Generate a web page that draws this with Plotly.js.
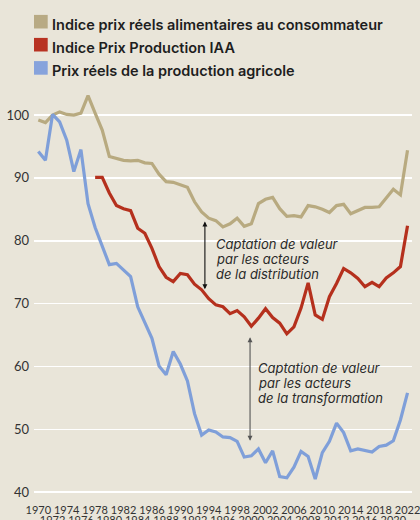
<!DOCTYPE html>
<html>
<head>
<meta charset="utf-8">
<script src="https://cdn.plot.ly/plotly-3.0.1.min.js"></script>
<style>
html,body{margin:0;padding:0;background:#e9e5d9;}
#chart{width:420px;height:520px;}
</style>
</head>
<body>
<div id="chart"></div>
<script>
// ---- data ----
const years = [];
for (let y = 1970; y <= 2022; y++) years.push(y);

const seriesNames = [
  "Indice prix réels alimentaires au consommateur",
  "Indice Prix Production IAA",
  "Prix réels de la production agricole"
];
const seriesColors = ["#b8aa80", "#b5301d", "#7f9fd9"];
const swatchColors = ["#b8aa84", "#b83222", "#87a3dc"];

const consumer = [99.2, 98.8, 100.0, 100.5, 100.1, 100.0, 100.3, 103.1, 100.3, 97.6,
  93.4, 93.1, 92.8, 92.7, 92.8, 92.4, 92.3, 90.6, 89.4, 89.3,
  88.9, 88.5, 86.2, 84.6, 83.6, 83.2, 82.2, 82.7, 83.6, 82.3,
  82.7, 85.9, 86.6, 86.9, 85.1, 83.9, 84.0, 83.8, 85.6, 85.4,
  85.0, 84.5, 85.6, 85.8, 84.3, 84.8, 85.3, 85.3, 85.4, 86.8,
  88.2, 87.3, 94.4];

const iaa = [null, null, null, null, null, null, null, null, 90.1, 90.1,
  87.6, 85.6, 85.1, 84.8, 82.0, 81.2, 78.8, 75.9, 74.2, 73.5,
  74.8, 74.6, 73.1, 72.2, 70.8, 69.8, 69.5, 68.4, 68.9, 67.9,
  66.4, 67.7, 69.2, 67.8, 66.9, 65.2, 66.3, 69.3, 73.3, 68.2,
  67.5, 71.1, 73.2, 75.6, 74.9, 74.0, 72.7, 73.4, 72.7, 74.1,
  74.9, 75.9, 82.4];

const agri = [94.2, 92.8, 100.1, 98.9, 96.0, 91.0, 94.5, 85.9, 82.1, 79.1,
  76.2, 76.4, 75.4, 74.3, 69.5, 67.0, 64.5, 60.1, 58.7, 62.4,
  60.4, 57.7, 52.5, 49.1, 49.9, 49.6, 48.8, 48.7, 48.1, 45.6,
  45.8, 46.9, 44.7, 46.6, 42.5, 42.3, 44.0, 46.5, 45.7, 42.1,
  46.3, 48.1, 51.0, 49.5, 46.6, 46.9, 46.7, 46.4, 47.3, 47.5,
  48.2, 51.5, 55.8];

// staggered x tick labels: upper row and lower row
const xTickUpper = [1970, 1974, 1978, 1982, 1986, 1990, 1994, 1998, 2002, 2006, 2010, 2014, 2018, 2022];
const xTickLower = [1972, 1976, 1980, 1984, 1988, 1992, 1996, 2000, 2004, 2008, 2012, 2016, 2020];
const yTickVals = [40, 50, 60, 70, 80, 90, 100];

const noteDistrib = ["Captation de valeur", "par les acteurs", "de la distribution"];
const noteTransfo = ["Captation de valeur", "par les acteurs", "de la transformation"];

// ---- layout helpers ----
const W = 420, H = 520;
const M = {l: 34, r: 8, t: 90, b: 25};
const plotH = H - M.t - M.b;
const plotW = W - M.l - M.r;
const py = p => (H - M.b - p) / plotH;   // pixel y -> paper
const px = p => (p - M.l) / plotW;       // pixel x -> paper

const values = [consumer, iaa, agri];
const traces = values.map((v, i) => ({
  type: "scatter", mode: "lines", x: years, y: v, name: seriesNames[i],
  line: {color: seriesColors[i], width: 3.2}, connectgaps: false,
  showlegend: false, hoverinfo: "skip"
}));
// empty trace so that the second (lower-row) x axis is drawn
traces.push({type: "scatter", mode: "lines", x: [], y: [], xaxis: "x2", yaxis: "y",
  showlegend: false, hoverinfo: "skip"});

const shapes = [];
const annotations = [];
const legendRowsPx = [21.7, 44.7, 67.9];
const legendFont = {family: "Inter, 'Open Sans', sans-serif", size: 14.5, weight: 600, color: "#1e1e1e"};
seriesNames.forEach((n, i) => {
  const c = legendRowsPx[i];
  shapes.push({type: "rect", xref: "paper", yref: "paper",
    x0: px(34), x1: px(47.7), y0: py(c + 6.8), y1: py(c - 6.8),
    fillcolor: swatchColors[i], line: {width: 0}});
  annotations.push({xref: "paper", yref: "paper", x: px(49.5), y: py(c + 2.6),
    xanchor: "left", yanchor: "middle", showarrow: false, text: n, font: legendFont});
});

// arrows
annotations.push({x: 1993.46, y: 72.3, ax: 1993.46, ay: 83.3, axref: "x", ayref: "y",
  xref: "x", yref: "y", text: "", showarrow: true, arrowside: "end+start",
  arrowhead: 2, startarrowhead: 2, arrowsize: 0.9, startarrowsize: 0.9,
  arrowwidth: 1.1, arrowcolor: "#111", standoff: 0, startstandoff: 0});
annotations.push({x: 1999.82, y: 48.2, ax: 1999.82, ay: 64.9, axref: "x", ayref: "y",
  xref: "x", yref: "y", text: "", showarrow: true, arrowside: "end+start",
  arrowhead: 2, startarrowhead: 2, arrowsize: 0.9, startarrowsize: 0.9,
  arrowwidth: 1.1, arrowcolor: "#555", standoff: 0, startstandoff: 0});

// annotation text, one line per annotation (15 px line spacing)
const noteFont = {family: "Inter, 'Open Sans', sans-serif", size: 13, style: "italic", color: "#2a2a2a"};
const lineStep = 2.385;
noteDistrib.forEach((t, k) => annotations.push({x: 1994.7, y: 79.48 - k * lineStep,
  xref: "x", yref: "y", xanchor: "left", yanchor: "middle", align: "left",
  showarrow: false, text: t, font: noteFont}));
noteTransfo.forEach((t, k) => annotations.push({x: 2000.7, y: 59.72 - k * lineStep,
  xref: "x", yref: "y", xanchor: "left", yanchor: "middle", align: "left",
  showarrow: false, text: t, font: noteFont}));

const xRange = [1969.39, 2022.63];
const xTickFont = {family: "Lato, 'Open Sans', sans-serif", size: 11, color: "#333"};
const layout = {
  width: W, height: H,
  margin: M,
  paper_bgcolor: "#e9e5d9", plot_bgcolor: "#e9e5d9",
  showlegend: false,
  font: {family: "Lato, 'Open Sans', sans-serif", color: "#333"},
  xaxis: {
    range: xRange, tickvals: xTickUpper, ticktext: xTickUpper.map(String),
    showgrid: false, zeroline: false, showline: false, ticks: "",
    tickfont: xTickFont, tickangle: 0, ticklabelstandoff: 7,
    ticklabeloverflow: "allow", fixedrange: true
  },
  xaxis2: {
    range: xRange, overlaying: "x", side: "bottom", anchor: "y",
    tickvals: xTickLower, ticktext: xTickLower.map(String),
    showgrid: false, zeroline: false, showline: false, ticks: "",
    tickfont: xTickFont, tickangle: 0, ticklabelstandoff: 17,
    ticklabeloverflow: "allow", fixedrange: true
  },
  yaxis: {
    range: [39.57, 103.98], tickvals: yTickVals,
    showgrid: true, gridcolor: "#ffffff", gridwidth: 1.6,
    zeroline: false, showline: false, ticks: "",
    tickfont: {size: 13, color: "#333"}, ticklabelstandoff: 4, fixedrange: true
  },
  shapes: shapes,
  annotations: annotations
};

Plotly.newPlot("chart", traces, layout, {displayModeBar: false, staticPlot: true});
</script>
</body>
</html>
